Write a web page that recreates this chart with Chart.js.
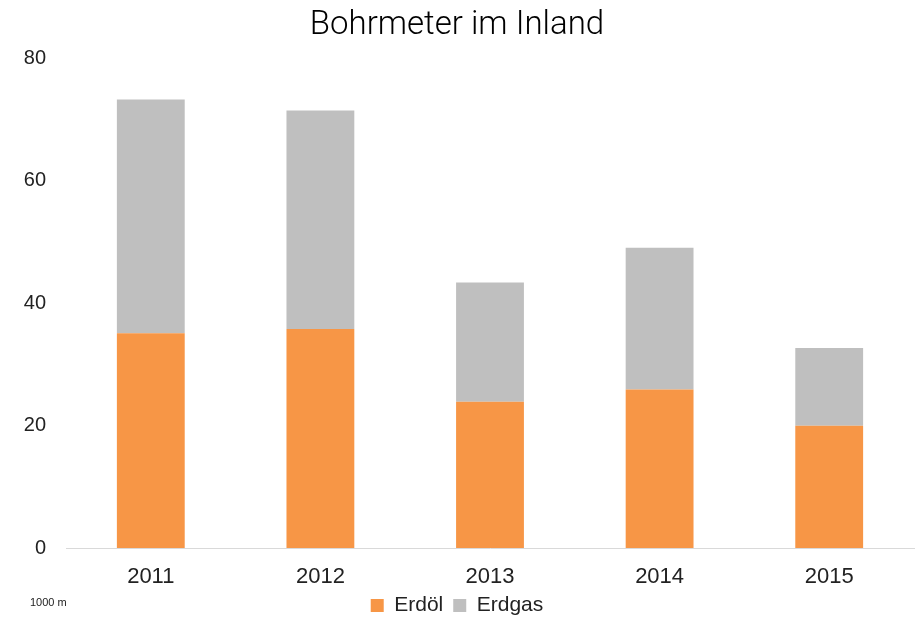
<!DOCTYPE html>
<html lang="de">
<head>
  <meta charset="UTF-8" />
  <title>Bohrmeter im Inland</title>
  <script src="https://cdn.jsdelivr.net/npm/chart.js"></script>
  <style>
    body {
      margin: 0;
      background: white;
    }
    .box {
      width: 919px;
      height: 617px;
    }
  </style>
</head>
<body>
  <div class="box">
    <canvas id="bohrChart" width="919" height="617"></canvas>
  </div>

  <script>
    const years = ["2011", "2012", "2013", "2014", "2015"];
    const erdoel = [35.1, 35.8, 23.9, 25.9, 20.0];
    const erdgas = [38.2, 35.7, 19.5, 23.2, 12.7];
    const yTicks = [0, 20, 40, 60, 80];

    // kleine Einheitsangabe unten links
    const unitLabel = {
      id: "unitLabel",
      afterDraw(chart) {
        const ctx = chart.ctx;
        ctx.save();
        ctx.font = "11px 'Liberation Sans', Arial, sans-serif";
        ctx.fillStyle = "#222";
        ctx.textBaseline = "middle";
        ctx.fillText("1000 m", 30, 603);
        ctx.restore();
      }
    };

    const bohrChart = new Chart(document.getElementById("bohrChart").getContext("2d"), {
      type: "bar",
      data: {
        labels: years,
        datasets: [
          {
            label: "Erdöl",
            data: erdoel,
            backgroundColor: "#F79646",
            barPercentage: 0.4,
            categoryPercentage: 1
          },
          {
            label: "Erdgas",
            data: erdgas,
            backgroundColor: "#BFBFBF",
            barPercentage: 0.4,
            categoryPercentage: 1
          }
        ]
      },
      options: {
        responsive: false,
        animation: false,
        layout: { padding: { left: 0, right: 5, top: 0, bottom: -9 } },
        plugins: {
          title: {
            display: true,
            text: "Bohrmeter im Inland",
            color: "#000",
            font: { family: "Roboto", size: 33, weight: "300" },
            padding: { top: 6, bottom: 13 }
          },
          legend: {
            position: "bottom",
            labels: {
              color: "#222",
              font: { family: "'Liberation Sans', Arial, sans-serif", size: 21 },
              boxWidth: 13,
              boxHeight: 13,
              padding: 10
            }
          },
          tooltip: { enabled: false }
        },
        scales: {
          x: {
            stacked: true,
            grid: { display: false },
            border: { display: true, color: "#D9D9D9", width: 1 },
            ticks: {
              color: "#222",
              font: { family: "'Liberation Sans', Arial, sans-serif", size: 22 },
              padding: 8
            },
            afterFit(scale) { scale.height = 37; }
          },
          y: {
            stacked: true,
            min: 0,
            max: 80,
            grid: { display: false },
            border: { display: false },
            afterBuildTicks(scale) { scale.ticks = yTicks.map(v => ({ value: v })); },
            ticks: {
              color: "#222",
              font: { family: "'Liberation Sans', Arial, sans-serif", size: 20 },
              padding: 12
            },
            afterFit(scale) { scale.width = 66; }
          }
        }
      },
      plugins: [unitLabel]
    });
  </script>
</body>
</html>
